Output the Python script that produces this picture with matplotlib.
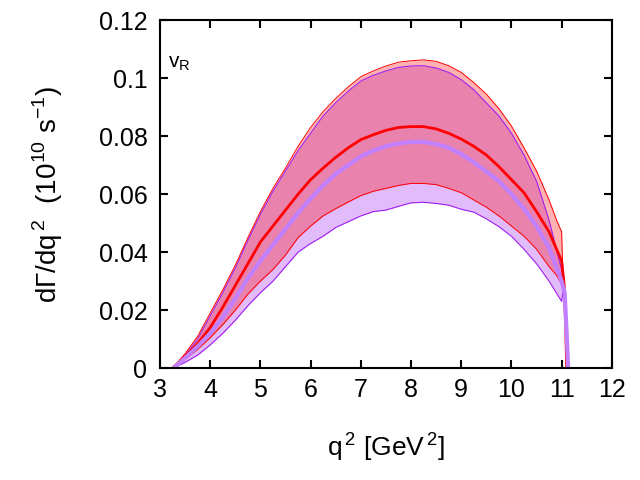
import numpy as np
import matplotlib
matplotlib.use('Agg')
import matplotlib.pyplot as plt

plt.rcParams['font.family'] = ['Liberation Sans', 'DejaVu Sans']
plt.rcParams['mathtext.fontset'] = 'custom'
plt.rcParams['mathtext.rm'] = 'Liberation Sans'

# red band (upper / lower edges)
q2_red = [3.25, 3.5, 3.75, 4.0, 4.25, 4.5, 4.75, 5.0, 5.25, 5.5, 5.75, 6.0,
          6.25, 6.5, 6.75, 7.0, 7.25, 7.5, 7.75, 8.0, 8.25, 8.5, 8.75, 9.0,
          9.25, 9.5, 9.75, 10.0, 10.25, 10.5, 10.75, 10.9, 11.0, 11.03]
red_up = [0.0, 0.005, 0.011, 0.019, 0.027, 0.0355, 0.045, 0.054, 0.062, 0.069,
          0.0765, 0.083, 0.0885, 0.093, 0.097, 0.1005, 0.1025, 0.1042, 0.1055,
          0.106, 0.1063, 0.1058, 0.1043, 0.102, 0.0985, 0.0945, 0.0895,
          0.0835, 0.076, 0.068, 0.058, 0.051, 0.047, 0.030]
red_lo = [0.0, 0.003, 0.0065, 0.0105, 0.015, 0.020, 0.0255, 0.030, 0.034,
          0.039, 0.045, 0.049, 0.0525, 0.055, 0.0573, 0.0595, 0.061, 0.062,
          0.063, 0.0637, 0.0637, 0.0633, 0.062, 0.0605, 0.058, 0.0555, 0.0525,
          0.049, 0.0455, 0.041, 0.035, 0.032, 0.029, 0.029]

# red central value
q2_red_c = [3.25, 3.5, 3.75, 4.0, 4.25, 4.5, 4.75, 5.0, 5.25, 5.5, 5.75, 6.0,
            6.25, 6.5, 6.75, 7.0, 7.25, 7.5, 7.75, 8.0, 8.25, 8.5, 8.75, 9.0,
            9.25, 9.5, 9.75, 10.0, 10.25, 10.5, 10.75, 11.0, 11.05, 11.08,
            11.1]
red_c = [0.0, 0.004, 0.0085, 0.014, 0.021, 0.0285, 0.036, 0.0435, 0.049,
         0.0545, 0.060, 0.065, 0.069, 0.0727, 0.076, 0.0788, 0.0805, 0.082,
         0.083, 0.0833, 0.0833, 0.0825, 0.081, 0.079, 0.0765, 0.0735, 0.0695,
         0.065, 0.0605, 0.054, 0.047, 0.037, 0.029, 0.015, 0.0]

# purple band (upper / lower edges)
q2_pur = [3.27, 3.5, 3.75, 4.0, 4.25, 4.5, 4.75, 5.0, 5.25, 5.5, 5.75, 6.0,
          6.25, 6.5, 6.75, 7.0, 7.25, 7.5, 7.75, 8.0, 8.25, 8.5, 8.75, 9.0,
          9.25, 9.5, 9.75, 10.0, 10.25, 10.5, 10.75, 11.0, 11.03]
pur_up = [0.0, 0.0045, 0.010, 0.018, 0.026, 0.0345, 0.044, 0.053, 0.061,
          0.068, 0.075, 0.081, 0.087, 0.0915, 0.0955, 0.099, 0.101, 0.1025,
          0.1037, 0.1042, 0.1043, 0.1035, 0.102, 0.0995, 0.096, 0.0915,
          0.087, 0.081, 0.0735, 0.0645, 0.051, 0.034, 0.029]
pur_lo = [0.0, 0.002, 0.0045, 0.008, 0.012, 0.0165, 0.0215, 0.026, 0.030,
          0.035, 0.040, 0.043, 0.0455, 0.0485, 0.0505, 0.0525, 0.054, 0.0545,
          0.0558, 0.057, 0.0572, 0.0568, 0.0562, 0.0548, 0.0538, 0.0515,
          0.0488, 0.0455, 0.041, 0.036, 0.030, 0.023, 0.027]

# purple central value
q2_pur_c = [3.27, 3.5, 3.75, 4.0, 4.25, 4.5, 4.75, 5.0, 5.25, 5.5, 5.75, 6.0,
            6.25, 6.5, 6.75, 7.0, 7.25, 7.5, 7.75, 8.0, 8.25, 8.5, 8.75, 9.0,
            9.25, 9.5, 9.75, 10.0, 10.25, 10.5, 10.75, 11.0, 11.06, 11.1,
            11.13]
pur_c = [0.0, 0.0035, 0.0075, 0.012, 0.0175, 0.024, 0.031, 0.037, 0.0425,
         0.048, 0.0535, 0.0585, 0.063, 0.067, 0.070, 0.073, 0.075, 0.0765,
         0.0775, 0.078, 0.078, 0.0773, 0.076, 0.0738, 0.071, 0.0678, 0.0645,
         0.060, 0.055, 0.049, 0.0415, 0.030, 0.026, 0.012, 0.0]

fig = plt.figure(figsize=(6.4, 4.8), dpi=100)
ax = fig.add_axes([0.25, 0.233, 0.706, 0.725])

ax.fill_between(q2_pur, pur_lo, pur_up, color=(0.627, 0.125, 0.941),
                alpha=0.3, lw=0)
ax.plot(q2_pur, pur_up, color='#a020f0', lw=0.8)
ax.plot(q2_pur, pur_lo, color='#a020f0', lw=0.8)

ax.fill_between(q2_red, red_lo, red_up, color='red', alpha=0.3, lw=0)
ax.plot(q2_red, red_up, color='red', lw=0.7)
ax.plot(q2_red, red_lo, color='red', lw=0.7)

ax.plot(q2_red_c, red_c, color='red', lw=2.0)
ax.plot(q2_pur_c, pur_c, color='#c080ff', lw=3.0)

ax.set_xlim(3, 12)
ax.set_ylim(0, 0.12)
ax.set_xticks(range(3, 13))
ax.set_yticks([0, 0.02, 0.04, 0.06, 0.08, 0.1, 0.12])
ax.set_yticklabels(['0', '0.02', '0.04', '0.06', '0.08', '0.1', '0.12'])

for s in ax.spines.values():
    s.set_linewidth(1.5)
ax.tick_params(direction='in', length=6, width=1.5, top=True, right=True,
               labelsize=18)
ax.tick_params(axis='y', pad=9)
ax.tick_params(axis='x', pad=7)

ax.text(0.018, 0.875, r'v$_{\mathregular{R}}$', transform=ax.transAxes,
        fontsize=15, ha='left', va='center')

ax.set_xlabel(r'q$^{\,2}$ [GeV$^{\,2}$]', fontsize=19, labelpad=20)
ax.set_ylabel(r'd$\Gamma$/dq$^{\,2}$  (10$^{10}$ s$^{-1}$)', fontsize=20,
              labelpad=24)

fig.savefig('out.png', dpi=100)
